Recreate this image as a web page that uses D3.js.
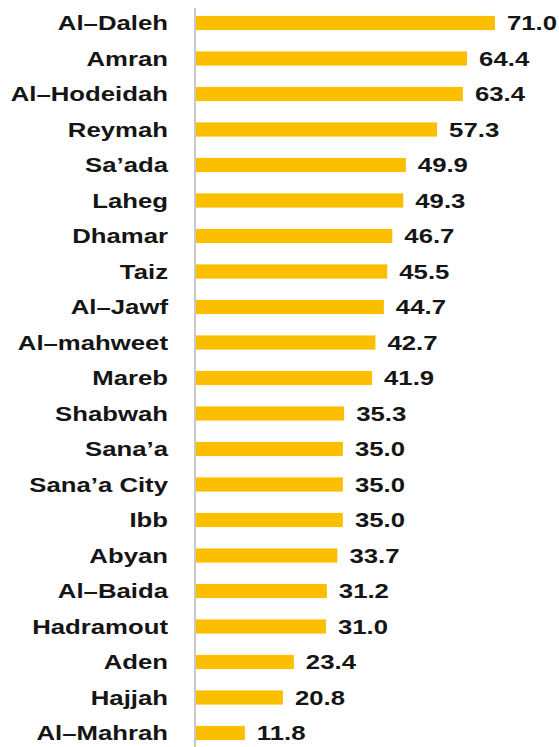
<!DOCTYPE html>
<html>
<head>
<meta charset="utf-8">
<script src="https://cdn.jsdelivr.net/npm/d3@7"></script>
<style>
    body { margin: 0; background: #fff; }
    text { font-family: "Liberation Sans", Arial, sans-serif; font-weight: bold; fill: #151515; }
</style>
</head>
<body>
<div id="chart"></div>
<script>
// governorates, top to bottom
const regions = ["Al–Daleh", "Amran", "Al–Hodeidah", "Reymah", "Sa’ada", "Laheg", "Dhamar", "Taiz",
    "Al–Jawf", "Al–mahweet", "Mareb", "Shabwah", "Sana’a", "Sana’a City", "Ibb", "Abyan",
    "Al–Baida", "Hadramout", "Aden", "Hajjah", "Al–Mahrah"];
const values = [71.0, 64.4, 63.4, 57.3, 49.9, 49.3, 46.7, 45.5, 44.7, 42.7, 41.9, 35.3, 35.0, 35.0, 35.0,
    33.7, 31.2, 31.0, 23.4, 20.8, 11.8];

const width = 559, height = 747;
const sx = 1.32; // text in the original is stretched horizontally

const svg = d3.select('#chart').append('svg')
    .attr('width', width)
    .attr('height', height);

const x = d3.scaleLinear().domain([0, 71]).range([195, 495]);
const y = d3.scaleBand().domain(regions).range([5.25, 750.75])
    .paddingInner(0.6).paddingOuter(0.3);

const data = regions.map((r, i) => ({ name: r, value: values[i] }));

svg.selectAll('.bar')
    .data(data)
    .enter()
    .append('rect')
    .attr('class', 'bar')
    .attr('x', x(0))
    .attr('y', d => y(d.name))
    .attr('width', d => x(d.value) - x(0))
    .attr('height', y.bandwidth())
    .attr('fill', '#fcbf00');

// vertical axis line
svg.append('line')
    .attr('x1', x(0)).attr('x2', x(0))
    .attr('y1', 8).attr('y2', height)
    .attr('stroke', '#c8c8c8')
    .attr('stroke-width', 2);

svg.selectAll('.name')
    .data(data)
    .enter()
    .append('text')
    .attr('class', 'name')
    .attr('transform', d => 'translate(168,' + (y(d.name) + y.bandwidth() / 2) + ') scale(' + sx + ',1)')
    .attr('dy', '0.36em')
    .attr('text-anchor', 'end')
    .style('font-size', '19.5px')
    .text(d => d.name);

svg.selectAll('.val')
    .data(data)
    .enter()
    .append('text')
    .attr('class', 'val')
    .attr('transform', d => 'translate(' + (x(d.value) + 12) + ',' + (y(d.name) + y.bandwidth() / 2) + ') scale(' + sx + ',1)')
    .attr('dy', '0.36em')
    .style('font-size', '19.5px')
    .text(d => d.value.toFixed(1));
</script>
</body>
</html>
